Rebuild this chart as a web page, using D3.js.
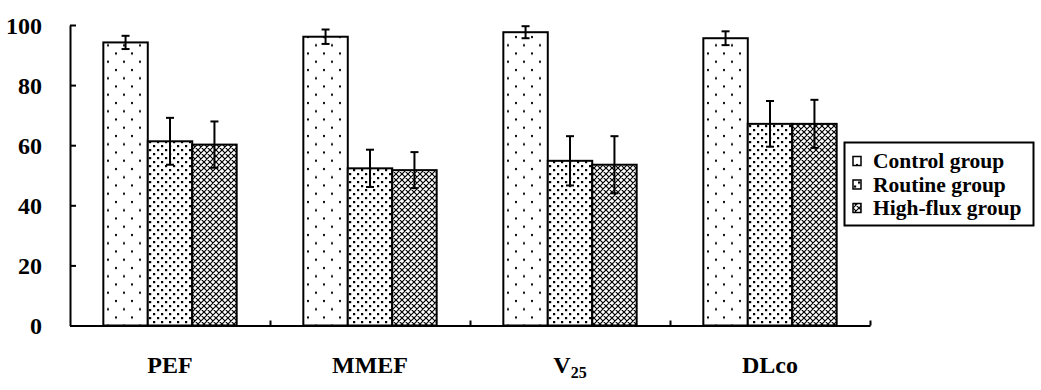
<!DOCTYPE html>
<html>
<head>
<meta charset="utf-8">
<script src="https://cdn.jsdelivr.net/npm/d3@7"></script>
<style>
  body { margin: 0; background: #fff; }
  text { font-family: 'Liberation Serif', 'Times New Roman', serif; font-weight: bold; fill: #000; }
</style>
</head>
<body>
<div id="chart"></div>
<script>
const categories = ['PEF', 'MMEF', 'V25', 'DLco'];
const groups = ['Control group', 'Routine group', 'High-flux group'];
const controlValues = [94.2, 96.1, 97.6, 95.6];
const controlErrors = [2.2, 2.4, 2.0, 2.3];
const routineValues = [61.3, 52.3, 54.8, 67.1];
const routineErrors = [7.8, 6.2, 8.2, 7.6];
const highFluxValues = [60.2, 51.7, 53.5, 67.1];
const highFluxErrors = [7.7, 6.0, 9.5, 8.0];
const yTicks = [0, 20, 40, 60, 80, 100];

const width = 1041;
const height = 390;
const margin = {top: 25, right: 171, bottom: 64.5, left: 70};

const seriesValues = [controlValues, routineValues, highFluxValues];
const seriesErrors = [controlErrors, routineErrors, highFluxErrors];
const patternIds = ['pat-control', 'pat-routine', 'pat-highflux'];

const data = [];
categories.forEach((cat, i) => {
    groups.forEach((g, j) => {
        data.push({cat: cat, group: g, idx: j, value: seriesValues[j][i], err: seriesErrors[j][i]});
    });
});

const svg = d3.select('#chart').append('svg')
    .attr('width', width)
    .attr('height', height);

// fill patterns
const defs = svg.append('defs');
const pControl = defs.append('pattern').attr('id', 'pat-control')
    .attr('patternUnits', 'userSpaceOnUse').attr('width', 16).attr('height', 16.5);
pControl.append('rect').attr('width', 16).attr('height', 16.5).attr('fill', '#fff');
pControl.append('rect').attr('x', 3).attr('y', 3).attr('width', 2).attr('height', 2).attr('fill', '#000');
pControl.append('rect').attr('x', 11).attr('y', 11.25).attr('width', 2).attr('height', 2).attr('fill', '#000');

const pRoutine = defs.append('pattern').attr('id', 'pat-routine')
    .attr('patternUnits', 'userSpaceOnUse').attr('width', 8).attr('height', 8);
pRoutine.append('rect').attr('width', 8).attr('height', 8).attr('fill', '#fff');
pRoutine.append('rect').attr('x', 1).attr('y', 1).attr('width', 2.2).attr('height', 2.2).attr('fill', '#000');
pRoutine.append('rect').attr('x', 5).attr('y', 5).attr('width', 2.2).attr('height', 2.2).attr('fill', '#000');

const pHigh = defs.append('pattern').attr('id', 'pat-highflux')
    .attr('patternUnits', 'userSpaceOnUse').attr('width', 6).attr('height', 6);
pHigh.append('rect').attr('width', 6).attr('height', 6).attr('fill', '#fff');
pHigh.append('path')
    .attr('d', 'M0,0L6,6M0,6L6,0M-1,5L1,7M5,-1L7,1M-1,1L1,-1M5,7L7,5')
    .attr('stroke', '#000').attr('stroke-width', 1.2);

const x = d3.scaleBand()
    .domain(categories)
    .range([margin.left, width - margin.right])
    .paddingInner(0)
    .paddingOuter(0);

const xInner = d3.scaleBand()
    .domain(groups)
    .range([0, x.bandwidth()])
    .paddingInner(0)
    .paddingOuter(0.75);

const y = d3.scaleLinear()
    .domain([0, 100])
    .range([height - margin.bottom, margin.top]);

// bars
svg.append('g')
    .selectAll('rect')
    .data(data)
    .join('rect')
        .attr('x', d => x(d.cat) + xInner(d.group))
        .attr('y', d => y(d.value))
        .attr('width', xInner.bandwidth())
        .attr('height', d => y(0) - y(d.value))
        .attr('fill', d => `url(#${patternIds[d.idx]})`)
        .attr('stroke', '#000')
        .attr('stroke-width', 2);

// error bars
const errG = svg.append('g')
    .selectAll('g')
    .data(data)
    .join('g')
        .attr('transform', d => `translate(${x(d.cat) + xInner(d.group) + xInner.bandwidth() / 2}, 0)`)
        .attr('stroke', '#000')
        .attr('stroke-width', 2);

errG.append('line')
    .attr('y1', d => y(d.value - d.err))
    .attr('y2', d => y(d.value + d.err));
errG.append('line')
    .attr('x1', -4).attr('x2', 4)
    .attr('y1', d => y(d.value + d.err))
    .attr('y2', d => y(d.value + d.err));
errG.append('line')
    .attr('x1', -4).attr('x2', 4)
    .attr('y1', d => y(d.value - d.err))
    .attr('y2', d => y(d.value - d.err));

// y axis
const yAxis = svg.append('g')
    .attr('transform', `translate(${margin.left}, 0)`)
    .call(d3.axisLeft(y).tickValues(yTicks).tickSizeInner(-6).tickSizeOuter(0).tickPadding(28));
yAxis.select('.domain').attr('stroke-width', 2);
yAxis.selectAll('.tick line').attr('stroke-width', 2);
yAxis.selectAll('.tick text')
    .style('font-family', "'Liberation Serif', 'Times New Roman', serif")
    .style('font-weight', 'bold')
    .style('font-size', '24px')
    .attr('dy', '0.34em');

// x axis with ticks at category boundaries
const xEdges = d3.scaleLinear()
    .domain([0, categories.length])
    .range([margin.left, width - margin.right]);
const xAxis = svg.append('g')
    .attr('transform', `translate(0, ${y(0)})`)
    .call(d3.axisBottom(xEdges).tickValues([1, 2, 3, 4]).tickSizeInner(-5).tickSizeOuter(0).tickFormat(''));
xAxis.select('.domain').attr('stroke-width', 2);
xAxis.selectAll('.tick line').attr('stroke-width', 2);

// category labels
const catLabels = svg.append('g')
    .selectAll('text')
    .data(categories)
    .join('text')
        .attr('x', d => x(d) + x.bandwidth() / 2)
        .attr('y', 373)
        .attr('text-anchor', 'middle')
        .style('font-size', '24px');
catLabels.each(function(d) {
    const t = d3.select(this);
    if (d === 'V25') {
        t.append('tspan').text('V');
        t.append('tspan').text('25').attr('dy', 5).style('font-size', '16px');
    } else {
        t.text(d);
    }
});

// legend
const legend = svg.append('g');
legend.append('rect')
    .attr('x', 844.5).attr('y', 142.5)
    .attr('width', 189).attr('height', 83)
    .attr('fill', '#fff')
    .attr('stroke', '#000')
    .attr('stroke-width', 2);

const legendRows = legend.selectAll('g.row')
    .data(groups)
    .join('g')
        .attr('class', 'row')
        .attr('transform', (d, i) => `translate(853, ${161 + i * 23.5})`);
legendRows.append('rect')
    .attr('x', 0).attr('y', -4.5)
    .attr('width', 8).attr('height', 9)
    .attr('fill', (d, i) => `url(#${patternIds[i]})`)
    .attr('stroke', '#000')
    .attr('stroke-width', 1.5);
legendRows.append('text')
    .attr('x', 20).attr('y', 7)
    .style('font-size', '21.5px')
    .text(d => d);
</script>
</body>
</html>
